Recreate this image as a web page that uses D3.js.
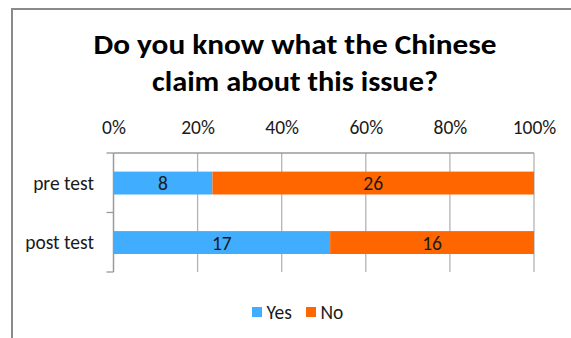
<!DOCTYPE html>
<html>
<head>
<meta charset="utf-8">
<script src="https://cdn.jsdelivr.net/npm/d3@7"></script>
<style>
  html, body { margin: 0; padding: 0; background: #fff; }
  svg { display: block; }
  text { font-family: Carlito, Calibri, Lato, "Open Sans", sans-serif; }
</style>
</head>
<body>
<svg id="chart" width="571" height="338"></svg>
<script>
// Survey answers per test round
const categories = ["pre test", "post test"];
const seriesNames = ["Yes", "No"];
const yesCounts = [8, 17];
const noCounts = [26, 16];
const tickLabels = ["0%", "20%", "40%", "60%", "80%", "100%"];
const titleLines = ["Do you know what the Chinese", "claim about this issue?"];
const colors = ["#40adff", "#ff6600"];

const svg = d3.select("#chart");
const W = 571, H = 338;

// Outer chart frame (only left and top edges fall inside the view)
svg.append("path")
  .attr("d", `M12,${H + 2} L12,9 L${W + 2},9`)
  .attr("fill", "none")
  .attr("stroke", "#8a8a8a")
  .attr("stroke-width", 2);

// Title, two centred lines with fixed widths
const titleWidths = [403, 286];
const titleBase = [54, 91];
titleLines.forEach((line, i) => {
  svg.append("text")
    .attr("x", 295)
    .attr("y", titleBase[i])
    .attr("text-anchor", "middle")
    .attr("font-weight", "bold")
    .attr("font-size", 27.5)
    .attr("fill", "#000")
    .attr("textLength", titleWidths[i])
    .attr("lengthAdjust", "spacingAndGlyphs")
    .text(line);
});

// Scales
const x = d3.scaleLinear().domain([0, 1]).range([113.5, 534]);
const y = d3.scaleBand().domain(categories).range([153, 272]).padding(0);
const barH = y.bandwidth() * 0.385;

// Stacked data as shares of each row total
const rows = categories.map((c, i) => ({ cat: c, Yes: yesCounts[i], No: noCounts[i] }));
const stack = d3.stack().keys(seriesNames).offset(d3.stackOffsetExpand);
const layers = stack(rows);

// Vertical gridlines
svg.append("g")
  .selectAll("line")
  .data(x.ticks(5))
  .join("line")
  .attr("x1", d => x(d)).attr("x2", d => x(d))
  .attr("y1", 153).attr("y2", 272)
  .attr("stroke", "#b4b4b4")
  .attr("stroke-width", 1.3);

// Value axis on top (labels only, line drawn separately)
const xAxis = d3.axisTop(x)
  .tickValues(x.ticks(5))
  .tickFormat((d, i) => tickLabels[i])
  .tickSize(0)
  .tickPadding(0);
const gx = svg.append("g").attr("transform", "translate(0,134)").call(xAxis);
gx.select(".domain").remove();
gx.selectAll("text")
  .attr("font-size", 19.5)
  .attr("fill", "#1a1a1a")
  .attr("dy", 0);

svg.append("line")
  .attr("x1", x(0)).attr("x2", x(1))
  .attr("y1", 153).attr("y2", 153)
  .attr("stroke", "#9a9a9a")
  .attr("stroke-width", 1.3);

// Category axis on the left
const yAxis = d3.axisLeft(y).tickSize(0).tickPadding(19.5);
const gy = svg.append("g").attr("transform", `translate(${x(0)},0)`).call(yAxis);
gy.select(".domain").remove();
gy.selectAll("text")
  .attr("font-size", 19.5)
  .attr("fill", "#1a1a1a")
  .attr("dy", "0.35em");

svg.append("line")
  .attr("x1", x(0)).attr("x2", x(0))
  .attr("y1", 153).attr("y2", 272)
  .attr("stroke", "#9a9a9a")
  .attr("stroke-width", 1.3);

// Category boundary tick marks
const bounds = [y.range()[0], ...categories.map(c => y(c) + y.bandwidth())];
svg.append("g")
  .selectAll("line")
  .data(bounds)
  .join("line")
  .attr("x1", x(0) - 7).attr("x2", x(0))
  .attr("y1", d => d).attr("y2", d => d)
  .attr("stroke", "#9a9a9a")
  .attr("stroke-width", 1.3);

// Bars
const gBars = svg.append("g");
layers.forEach((layer, li) => {
  gBars.selectAll(null)
    .data(layer)
    .join("rect")
    .attr("x", d => x(d[0]))
    .attr("width", d => x(d[1]) - x(d[0]))
    .attr("y", d => y(d.data.cat) + (y.bandwidth() - barH) / 2 + 0.3)
    .attr("height", barH)
    .attr("fill", colors[li]);

  gBars.selectAll(null)
    .data(layer)
    .join("text")
    .attr("x", d => (x(d[0]) + x(d[1])) / 2)
    .attr("y", d => y(d.data.cat) + y.bandwidth() / 2 + 0.5)
    .attr("dy", "0.35em")
    .attr("text-anchor", "middle")
    .attr("font-size", 19.5)
    .attr("fill", "#1a1a1a")
    .text(d => d.data[layer.key]);
});

// Legend
const legend = svg.append("g");
const legendX = [252, 306];
seriesNames.forEach((name, i) => {
  legend.append("rect")
    .attr("x", legendX[i]).attr("y", 307)
    .attr("width", 10).attr("height", 10)
    .attr("fill", colors[i]);
  legend.append("text")
    .attr("x", legendX[i] + 14.5).attr("y", 318.5)
    .attr("font-size", 19.5)
    .attr("fill", "#1a1a1a")
    .text(name);
});
</script>
</body>
</html>
